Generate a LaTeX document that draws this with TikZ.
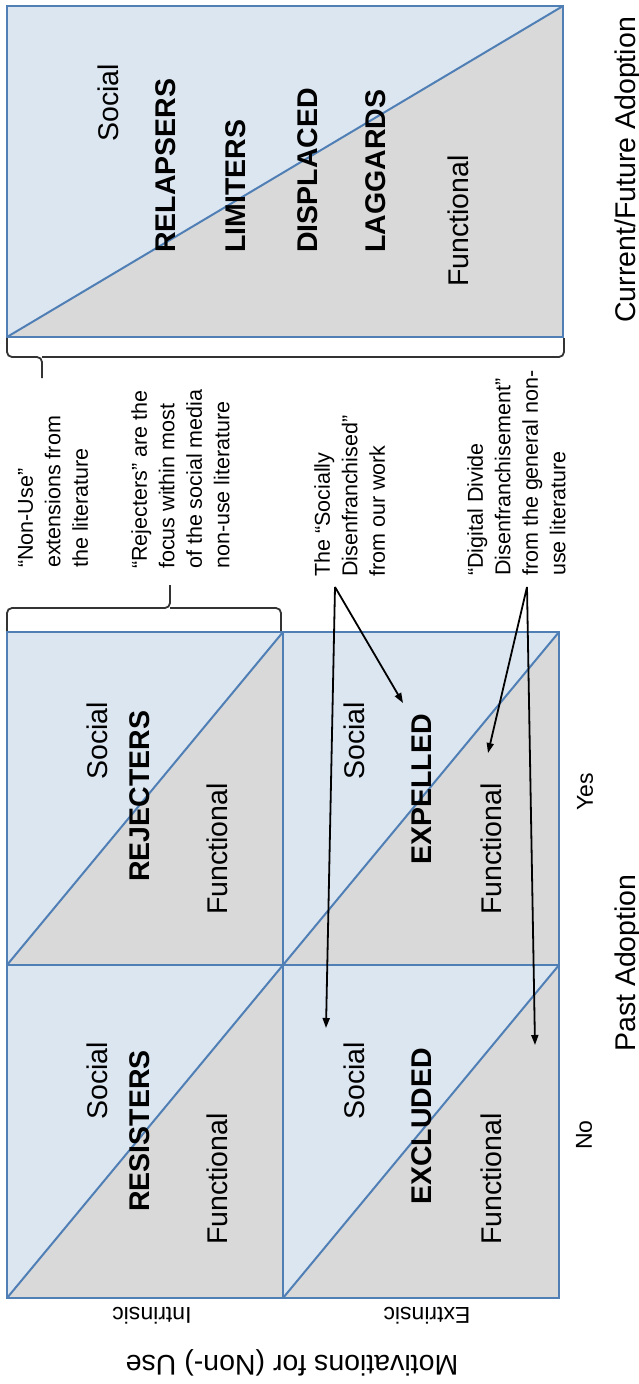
\documentclass[tikz,border=0pt]{standalone}
\usepackage{fontspec}
\setmainfont{Liberation Sans}
\usepackage{tikz}
\usetikzlibrary{arrows.meta}
\definecolor{celdaazul}{HTML}{DCE6F1}
\definecolor{celdagris}{HTML}{D9D9D9}
\definecolor{lineaazul}{HTML}{4F7FB5}
\tikzset{
	linea/.style={draw=lineaazul,line width=2pt},
	llave/.style={draw=black!80,line width=1.8pt,rounded corners=5pt},
	flecha/.style={line width=1.8pt,-{Triangle[length=10pt,width=7pt]}},
	texto/.style={rotate=90,anchor=west,inner sep=0pt,font=\fontsize{28.5}{34}\selectfont},
	grupo/.style={texto,font=\fontsize{28.5}{34}\selectfont\bfseries},
	nota/.style={rotate=90,anchor=north west,align=left,inner sep=0pt,font=\fontsize{21.5}{27.5}\selectfont},
	chico/.style={inner sep=0pt,font=\fontsize{23}{28}\selectfont}
}
\begin{document}
\begin{tikzpicture}[x=1pt,y=-1pt]
			\useasboundingbox (0,0) rectangle (639,1384);
			%rectangulo (adopcion actual/futura)
			\fill[celdaazul] (7,6) rectangle (563,337);
			\fill[celdagris] (7,337) -- (563,337) -- (563,6) -- cycle;
			\draw[linea] (7,6) rectangle (563,337);
			\draw[linea] (7,337) -- (563,6);
			\node[texto] (soc0) at (108,142) {Social};
			\node[grupo] (relapsers) at (166,253) {RELAPSERS};
			\node[grupo] (limiters) at (236,253) {LIMITERS};
			\node[grupo] (displaced) at (308,253) {DISPLACED};
			\node[grupo] (laggards) at (376,253) {LAGGARDS};
			\node[texto] (fun0) at (458,287) {Functional};
			\node[texto,anchor=base west] (actual) at (635,323) {Current/Future Adoption};
			
			%llaves
			\draw[llave] (7,338) |- (42,357) -- (42,378);
			\draw[llave] (42,357) -| (564,338);
			\draw[llave] (7,632) |- (170,608) -- (170,585);
			\draw[llave] (170,608) -| (281,632);
			
			%notas
			\node[nota] (nonuse) at (18,568) {“Non-Use”\\extensions from\\the literature};
			\node[nota] (rejnota) at (131,569) {“Rejecters” are the\\focus within most\\of the social media\\non-use literature};
			\node[nota] (socnota) at (314,577) {The “Socially\\Disenfranchised”\\from our work};
			\node[nota] (dignota) at (467,576) {“Digital Divide\\Disenfranchisement”\\from the general non-\\use literature};
			
			%cuadricula 2x2 (adopcion pasada)
			\foreach \x in {7,283}
			\foreach \y in {632,965}{
				\fill[celdaazul] (\x,\y) rectangle (\x+276,\y+333);
				\fill[celdagris] (\x,\y+333) -- (\x+276,\y+333) -- (\x+276,\y) -- cycle;
				\draw[linea] (\x,\y) rectangle (\x+276,\y+333);
				\draw[linea] (\x,\y+333) -- (\x+276,\y);
			}
			\node[texto] (soc1) at (97,780) {Social};
			\node[grupo] (rejecters) at (140,882) {REJECTERS};
			\node[texto] (fun1) at (217,915) {Functional};
			\node[texto] (soc2) at (354,780) {Social};
			\node[grupo] (expelled) at (422,865) {EXPELLED};
			\node[texto] (fun2) at (491,915) {Functional};
			\node[texto] (soc3) at (97,1120) {Social};
			\node[grupo] (resisters) at (140,1212) {RESISTERS};
			\node[texto] (fun3) at (217,1245) {Functional};
			\node[texto] (soc4) at (354,1120) {Social};
			\node[grupo] (excluded) at (422,1205) {EXCLUDED};
			\node[texto] (fun4) at (491,1245) {Functional};
			
			%ejes
			\node[chico,rotate=90] (yes) at (585,792) {Yes};
			\node[chico,rotate=90] (no) at (584,1135) {No};
			\node[texto,anchor=base west] (pasada) at (635,1052) {Past Adoption};
			\node[chico,rotate=180] (intrinsic) at (152,1316) {Intrinsic};
			\node[chico,rotate=180] (extrinsic) at (427,1316) {Extrinsic};
			\node[texto,rotate=90,anchor=center] (motiv) at (292,1363) {Motivations for (Non-) Use};
			
			%flechas
			\coordinate (socap) at (335,587);
			\coordinate (socexp) at (403,703);
			\coordinate (socexc) at (326,1028);
			\coordinate (digap) at (527,587);
			\coordinate (digexp) at (488,753);
			\coordinate (digexc) at (535,1045);
			\draw[flecha] (socap) -- (socexp);
			\draw[flecha] (socap) -- (socexc);
			\draw[flecha] (digap) -- (digexp);
			\draw[flecha] (digap) -- (digexc);
\end{tikzpicture}
\end{document}
